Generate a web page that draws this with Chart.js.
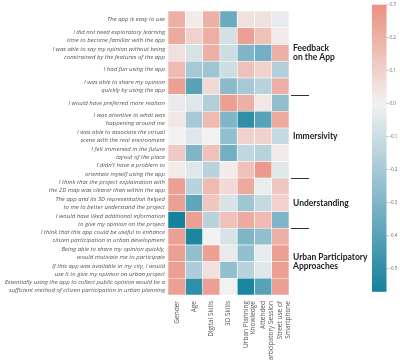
<!DOCTYPE html>
<html>
<head>
<meta charset="utf-8">
<script src="https://cdn.jsdelivr.net/npm/chart.js@4/dist/chart.umd.min.js"></script>
<style>
  html,body{margin:0;padding:0;background:#fff;}
  #wrap{width:400px;height:360px;position:relative;}
</style>
</head>
<body>
<div id="wrap"><canvas id="c" width="400" height="360"></canvas></div>
<script>
// ---- data ----
const statements = [
  ["The app is easy to use"],
  ["I did not need exploratory learning", "time to become familiar with the app"],
  ["I was able to say my opinion without being", "constrained by the features of the app"],
  ["I had fun using the app"],
  ["I was able to share my opinion", "quickly by using the app"],
  ["I would have preferred more realism"],
  ["I was attentive to what was", "happening around me"],
  ["I was able to associate the virtual", "scene with the real environment"],
  ["I felt immersed in the future", "layout of the place"],
  ["I didn't have a problem to", "orientate myself using the app"],
  ["I think that the project explaination with", "the 2D map was clearer than within the app"],
  ["The app and its 3D representation helped", "to me to better understand the project"],
  ["I would have liked additional information", "to give my opinion on the project"],
  ["I think that this app could be useful to enhance", "citizen participation in urban development"],
  ["Being able to share my opinion quickly,", "would motivate me to participate"],
  ["If this app was available in my city, I would", "use it to give my opinion on urban project"],
  ["Essentially using the app to collect public opinion would be a", "sufficient method of citizen participation in urban planning"]
];
const variables = [
  ["Gender"], ["Age"], ["Digital Skills"], ["3D Skills"],
  ["Urban Planning", "Knowledge"], ["Attended", "participatory Session"], ["Street use of", "Smartphone"]
];
// correlation values, one array per variable (top row first)
const gender        = [0.20, 0.22, 0.05, 0.17, 0.25, -0.03, 0.03, 0.00, 0.12, 0.02, 0.25, 0.25, -0.57, 0.25, 0.25, 0.25, 0.25];
const age           = [0.02, 0.10, -0.07, -0.20, -0.40, -0.05, -0.20, -0.05, -0.30, -0.05, -0.15, -0.38, 0.25, -0.55, -0.25, -0.18, -0.50];
const digitalSkills = [0.20, 0.20, 0.20, -0.22, 0.07, -0.17, 0.17, 0.00, 0.15, -0.15, 0.17, 0.13, -0.15, 0.00, 0.25, 0.05, 0.25];
const skills3D      = [-0.35, -0.08, -0.10, -0.10, -0.27, 0.25, -0.30, -0.25, -0.33, 0.02, 0.07, -0.07, 0.15, -0.07, -0.03, -0.25, 0.00];
const urbanPlanning = [0.05, 0.25, -0.30, 0.15, -0.20, 0.20, -0.50, 0.10, -0.13, 0.15, 0.22, -0.22, 0.22, -0.30, -0.25, -0.15, -0.55];
const attended      = [0.05, 0.15, -0.33, 0.10, -0.15, 0.03, -0.40, 0.10, -0.15, 0.27, -0.02, -0.12, 0.17, -0.25, -0.03, -0.05, -0.40];
const smartphone    = [-0.03, 0.02, 0.20, -0.17, 0.20, -0.25, 0.22, -0.12, 0.02, -0.05, 0.13, 0.10, -0.30, 0.20, 0.25, 0.25, 0.25];
const columnValues = [gender, age, digitalSkills, skills3D, urbanPlanning, attended, smartphone];

const groups = [
  {lines:["Feedback", "on the App"], from:0, to:4},
  {lines:["Immersivity"], from:5, to:9},
  {lines:["Understanding"], from:10, to:12},
  {lines:["Urban Participatory", "Approaches"], from:13, to:16}
];
const colorbarTicks = [0.3, 0.2, 0.1, 0.0, -0.1, -0.2, -0.3, -0.4, -0.5];
const vmin = -0.57, vmax = 0.30;

// ---- colour scale ----
function lerp(a, b, t){ return a.map((x,i)=>Math.round(x + (b[i]-x)*t)); }
function colorFor(v){
  const neutral = [242,241,241], red = [235,144,128];
  const midBlue = [133,184,201], darkBlue = [20,129,157];
  let c;
  if (v >= 0) c = lerp(neutral, red, Math.min(v/vmax, 1));
  else {
    const t = Math.min(v/vmin, 1);
    c = t < 0.5 ? lerp(neutral, midBlue, t*2) : lerp(midBlue, darkBlue, (t-0.5)*2);
  }
  return `rgb(${c[0]},${c[1]},${c[2]})`;
}

const datasets = columnValues.map((vals, ci) => ({
  label: variables[ci].join(" "),
  data: vals.map(() => 1),
  backgroundColor: vals.map(colorFor),
  borderColor: "#ffffff",
  borderWidth: 0.6,
  borderSkipped: false,
  barPercentage: 1,
  categoryPercentage: 1
}));

const sidePlugin = {
  id: "side",
  afterDraw(chart){
    const ctx = chart.ctx, y = chart.scales.y, area = chart.chartArea;
    const step = (y.getPixelForValue(1) - y.getPixelForValue(0));
    const rowTop = i => y.getPixelForValue(i) - step/2;
    ctx.save();
    // group labels & separators
    ctx.fillStyle = "#222"; ctx.strokeStyle = "#333"; ctx.lineWidth = 1;
    ctx.font = "bold 8.5px Lato";
    ctx.textAlign = "left"; ctx.textBaseline = "middle";
    groups.forEach((g, gi) => {
      const top = rowTop(g.from), bot = rowTop(g.to + 1);
      const mid = (top + bot)/2, lh = 8.7;
      g.lines.forEach((t, li) => ctx.fillText(t, area.right + 4, mid + (li - (g.lines.length-1)/2)*lh));
      if (gi < groups.length - 1) {
        ctx.beginPath(); ctx.moveTo(area.right + 2, Math.round(bot)+0.5); ctx.lineTo(area.right + 20, Math.round(bot)+0.5); ctx.stroke();
      }
    });
    // colorbar
    const cbX = 372, cbW = 14.5, zeroY = 103.7, perUnit = 330;
    const yOf = v => zeroY - v*perUnit;
    const gTop = yOf(vmax), gBot = yOf(vmin);
    const grad = ctx.createLinearGradient(0, gTop, 0, gBot);
    for (let k = 0; k <= 40; k++) {
      const v = vmax + (vmin - vmax)*k/40;
      grad.addColorStop(k/40, colorFor(v));
    }
    ctx.fillStyle = grad;
    ctx.fillRect(cbX, gTop, cbW, gBot - gTop);
    ctx.fillStyle = "#666"; ctx.strokeStyle = "#888"; ctx.lineWidth = 0.6;
    ctx.font = "4.5px 'Open Sans'"; ctx.textAlign = "left"; ctx.textBaseline = "middle";
    colorbarTicks.forEach(v => {
      const yy = yOf(v);
      ctx.beginPath(); ctx.moveTo(cbX + cbW, yy); ctx.lineTo(cbX + cbW + 2, yy); ctx.stroke();
      ctx.fillText(v.toFixed(1), cbX + cbW + 3, yy);
    });
    ctx.restore();
  }
};

new Chart(document.getElementById("c"), {
  type: "bar",
  data: { labels: statements, datasets },
  options: {
    indexAxis: "y",
    responsive: false,
    animation: false,
    events: [],
    layout: { padding: { top: 2, right: 111, left: 0, bottom: 0 } },
    plugins: { legend: { display: false }, tooltip: { enabled: false } },
    scales: {
      x: {
        type: "linear", stacked: true, min: 0, max: variables.length,
        grid: { display: false, drawTicks: false }, border: { display: false },
        afterBuildTicks: s => { s.ticks = variables.map((_, i) => ({ value: i + 0.5 })); },
        afterFit: s => { s.height = 65; },
        ticks: {
          autoSkip: false, minRotation: 90, maxRotation: 90, padding: 6,
          color: "#555", font: { family: "'Open Sans'", size: 6.5, lineHeight: 1.2 },
          callback: (v) => variables[Math.round(v - 0.5)]
        }
      },
      y: {
        stacked: true,
        grid: { display: false, drawTicks: false }, border: { display: false },
        afterFit: s => { s.width = 168; },
        ticks: {
          autoSkip: false, padding: 3, color: "#555",
          font: { family: "'Open Sans'", size: 6, style: "italic", lineHeight: 1.35 }
        }
      }
    }
  },
  plugins: [sidePlugin]
});
</script>
</body>
</html>
